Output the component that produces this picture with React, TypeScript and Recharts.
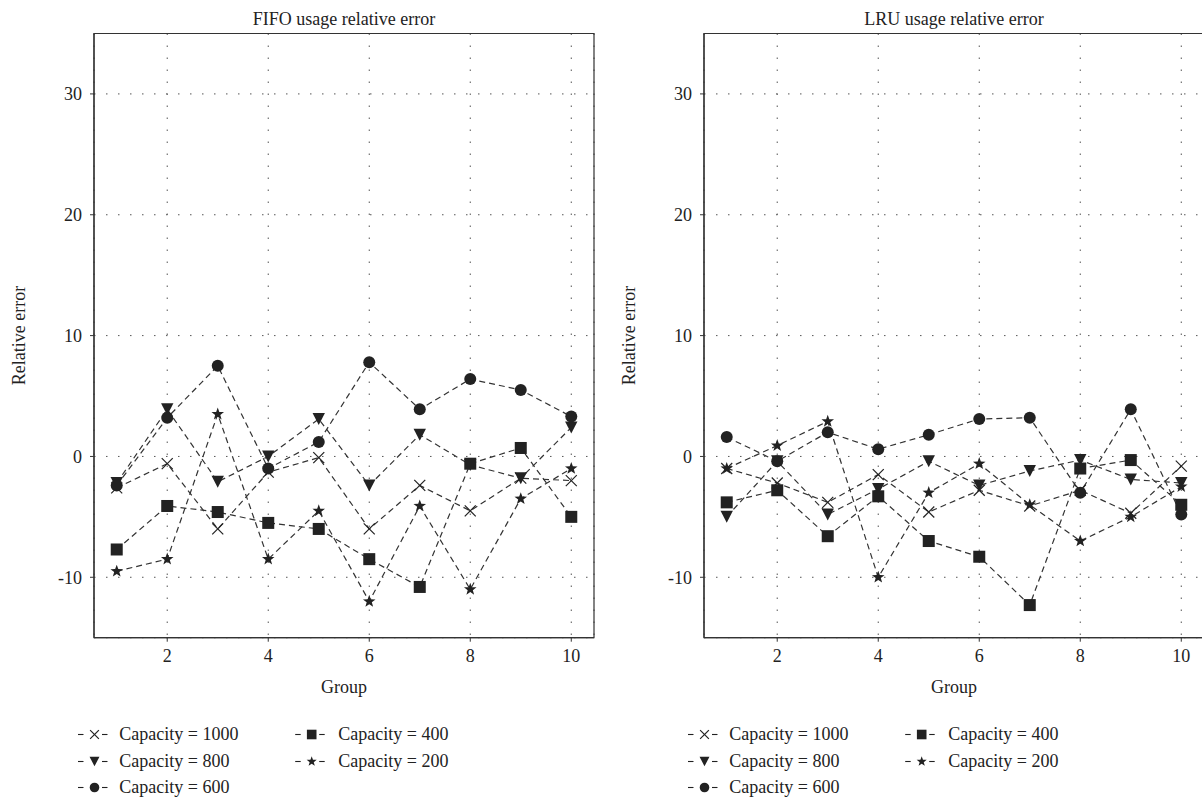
import React from 'react';
import { LineChart, Line, XAxis, YAxis, CartesianGrid, ReferenceArea } from 'recharts';

// ---------- data ----------
const groups = [1, 2, 3, 4, 5, 6, 7, 8, 9, 10];
const xTicks = [2, 4, 6, 8, 10];
const yTicks = [-10, 0, 10, 20, 30];

const seriesKeys = ['c1000', 'c800', 'c600', 'c400', 'c200'];
const seriesNames = ['Capacity = 1000', 'Capacity = 800', 'Capacity = 600', 'Capacity = 400', 'Capacity = 200'];
const seriesShapes = ['cross', 'triangle', 'circle', 'square', 'star'];

const fifo1000 = [-2.6, -0.6, -6.0, -1.3, -0.1, -6.0, -2.4, -4.5, -1.8, -2.0];
const fifo800 = [-2.2, 3.9, -2.1, 0.0, 3.1, -2.4, 1.8, -0.7, -1.8, 2.4];
const fifo600 = [-2.4, 3.2, 7.5, -1.0, 1.2, 7.8, 3.9, 6.4, 5.5, 3.3];
const fifo400 = [-7.7, -4.1, -4.6, -5.5, -6.0, -8.5, -10.8, -0.6, 0.7, -5.0];
const fifo200 = [-9.5, -8.5, 3.5, -8.5, -4.5, -12.0, -4.1, -11.0, -3.5, -1.0];

const lru1000 = [-1.0, -2.2, -3.8, -1.5, -4.6, -2.8, -4.1, -2.8, -4.7, -0.8];
const lru800 = [-5.0, -0.4, -4.8, -2.7, -0.4, -2.4, -1.2, -0.3, -1.9, -2.2];
const lru600 = [1.6, -0.4, 2.0, 0.6, 1.8, 3.1, 3.2, -3.0, 3.9, -4.8];
const lru400 = [-3.8, -2.8, -6.6, -3.3, -7.0, -8.3, -12.3, -1.0, -0.3, -4.0];
const lru200 = [-1.0, 0.9, 2.9, -10.0, -3.0, -0.6, -4.0, -7.0, -5.0, -2.5];

const fifoTitle = 'FIFO usage relative error';
const lruTitle = 'LRU usage relative error';
const xLabel = 'Group';
const yLabel = 'Relative error';

const buildRows = (cols: number[][]) =>
  groups.map((g, i) => {
    const row: Record<string, number> = { group: g };
    seriesKeys.forEach((k, j) => {
      row[k] = cols[j][i];
    });
    return row;
  });

const fifoRows = buildRows([fifo1000, fifo800, fifo600, fifo400, fifo200]);
const lruRows = buildRows([lru1000, lru800, lru600, lru400, lru200]);

// ---------- style ----------
const FONT = '"Liberation Serif", "Times New Roman", serif';
const INK = '#222';
const LINE = '#333';

function Marker({ shape, cx, cy, s = 1 }: { shape: string; cx: number; cy: number; s?: number }) {
  if (shape === 'cross') {
    const d = 5.5 * s;
    return (
      <g stroke={INK} strokeWidth={1.2}>
        <line x1={cx - d} y1={cy - d} x2={cx + d} y2={cy + d} />
        <line x1={cx - d} y1={cy + d} x2={cx + d} y2={cy - d} />
      </g>
    );
  }
  if (shape === 'triangle') {
    const w = 6.2 * s;
    const h = 6 * s;
    return <polygon points={`${cx - w},${cy - h} ${cx + w},${cy - h} ${cx},${cy + h}`} fill={INK} />;
  }
  if (shape === 'circle') {
    return <circle cx={cx} cy={cy} r={6 * s} fill={INK} />;
  }
  if (shape === 'square') {
    const h = 6 * s;
    return <rect x={cx - h} y={cy - h} width={2 * h} height={2 * h} fill={INK} />;
  }
  // star
  const R = 6.6 * s;
  const r = 2.7 * s;
  const pts: string[] = [];
  for (let i = 0; i < 10; i++) {
    const a = -Math.PI / 2 + (i * Math.PI) / 5;
    const rad = i % 2 === 0 ? R : r;
    pts.push(`${cx + rad * Math.cos(a)},${cy + rad * Math.sin(a)}`);
  }
  return <polygon points={pts.join(' ')} fill={INK} />;
}

const renderDot = (shape: string) => (props: any) => {
  const { cx, cy, index } = props;
  if (cx == null || cy == null) return <g key={`${shape}-${index}`} />;
  return (
    <g key={`${shape}-${index}`}>
      <Marker shape={shape} cx={cx} cy={cy} />
    </g>
  );
};

const tickStyle = { fontFamily: FONT, fontSize: 18, fill: INK };

function Panel({ rows }: { rows: Record<string, number>[] }) {
  return (
    <LineChart
      width={600}
      height={801}
      data={rows}
      margin={{ top: 33.5, right: 6, bottom: 133.3, left: 34 }}
      style={{ fontFamily: FONT }}
    >
      <CartesianGrid stroke="#555" strokeDasharray="1.5 10.5" strokeWidth={1} />
      <XAxis
        dataKey="group"
        type="number"
        domain={[0.55, 10.45]}
        ticks={xTicks}
        interval={0}
        allowDataOverflow
        height={30}
        tickSize={4}
        tickMargin={8}
        tick={tickStyle}
        axisLine={{ stroke: LINE, strokeWidth: 1.2 }}
        tickLine={{ stroke: LINE }}
      />
      <YAxis
        type="number"
        domain={[-15, 35]}
        ticks={yTicks}
        interval={0}
        allowDataOverflow
        width={60}
        tickSize={4}
        tickMargin={8}
        tick={tickStyle}
        axisLine={{ stroke: LINE, strokeWidth: 1.2 }}
        tickLine={{ stroke: LINE }}
      />
      <ReferenceArea x1={0.55} x2={10.45} y1={-15} y2={35} fill="none" fillOpacity={0} stroke={LINE} strokeWidth={1.2} />
      {seriesKeys.map((k, j) => (
        <Line
          key={k}
          dataKey={k}
          name={seriesNames[j]}
          type="linear"
          stroke={LINE}
          strokeWidth={1.2}
          strokeDasharray="6 4"
          dot={renderDot(seriesShapes[j])}
          activeDot={false}
          isAnimationActive={false}
        />
      ))}
    </LineChart>
  );
}

function Legend({ x0 }: { x0: number }) {
  const cols = [
    { mx: 94.5, tx: 119.3, items: [0, 1, 2] },
    { mx: 311.7, tx: 338.3, items: [3, 4] },
  ];
  const baselines = [740, 767, 793];
  return (
    <g>
      {cols.map((c, ci) =>
        c.items.map((idx, ri) => {
          const by = baselines[ri];
          const my = by - 5.5;
          const mx = x0 + c.mx;
          return (
            <g key={`${ci}-${ri}`}>
              <line x1={mx - 16.5} x2={mx - 11} y1={my} y2={my} stroke={INK} strokeWidth={1.1} />
              <line x1={mx + 7.5} x2={mx + 13} y1={my} y2={my} stroke={INK} strokeWidth={1.1} />
              <Marker shape={seriesShapes[idx]} cx={mx} cy={my} s={0.8} />
              <text x={x0 + c.tx} y={by} fontFamily={FONT} fontSize={18} fill={INK}>
                {seriesNames[idx]}
              </text>
            </g>
          );
        })
      )}
    </g>
  );
}

function Overlay() {
  const panels = [
    { off: 0, title: fifoTitle },
    { off: 610, title: lruTitle },
  ];
  return (
    <svg width={1202} height={801} style={{ position: 'absolute', left: 0, top: 0, pointerEvents: 'none' }}>
      {panels.map((p) => (
        <g key={p.title}>
          <text x={p.off + 344} y={25} textAnchor="middle" fontFamily={FONT} fontSize={18} fill={INK}>
            {p.title}
          </text>
          <text x={p.off + 344} y={693} textAnchor="middle" fontFamily={FONT} fontSize={18} fill={INK}>
            {xLabel}
          </text>
          <text
            x={p.off + 25}
            y={335.5}
            textAnchor="middle"
            fontFamily={FONT}
            fontSize={18}
            fill={INK}
            transform={`rotate(-90 ${p.off + 25} 335.5)`}
          >
            {yLabel}
          </text>
          <Legend x0={p.off} />
        </g>
      ))}
    </svg>
  );
}

export default function App() {
  return (
    <div
      style={{
        position: 'absolute',
        left: 0,
        top: 0,
        width: 1202,
        height: 801,
        overflow: 'hidden',
        background: '#fff',
      }}
    >
      <div style={{ position: 'absolute', left: 0, top: 0 }}>
        <Panel rows={fifoRows} />
      </div>
      <div style={{ position: 'absolute', left: 610, top: 0 }}>
        <Panel rows={lruRows} />
      </div>
      <Overlay />
    </div>
  );
}
